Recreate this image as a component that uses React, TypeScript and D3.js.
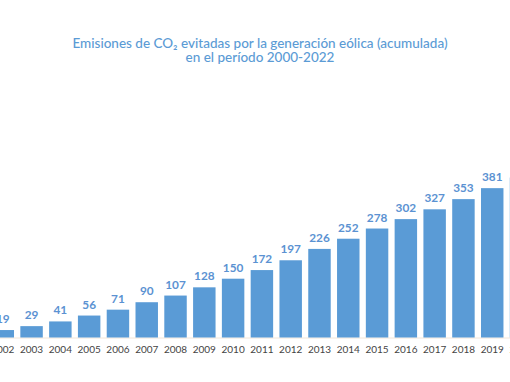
import React from "react";
import * as d3 from "d3";

const years = ["2000","2001","2002","2003","2004","2005","2006","2007","2008","2009","2010","2011","2012","2013","2014","2015","2016","2017","2018","2019","2020","2021","2022"];
const values = [4, 10, 19, 29, 41, 56, 71, 90, 107, 128, 150, 172, 197, 226, 252, 278, 302, 327, 353, 381, 408, 436, 465];
const titleLines = ["Emisiones de CO₂ evitadas por la generación eólica (acumulada)", "en el período 2000-2022"];

const W = 510;
const H = 382;

export default function App() {
  const x = d3.scaleBand<string>().domain(years).range([-69.2, 593]).paddingInner(0.22).paddingOuter(0.11);
  const y = d3.scaleLinear().domain([0, 400]).range([337.5, 180.7]);
  const bw = x.bandwidth();
  return (
    <div style={{ position: "absolute", left: 0, top: 0 }}>
      <svg width={W} height={H} style={{ display: "block", background: "#fff" }}>
        <g fontFamily="Lato, sans-serif" textAnchor="middle">
          <text x={260} y={47.5} fontSize={13.5} fill="#5b9bd5" fontWeight={500}>{titleLines[0]}</text>
          <text x={260} y={62} fontSize={13.5} fill="#5b9bd5" fontWeight={500}>{titleLines[1]}</text>
        </g>
        <line x1={0} x2={W} y1={y(0) + 0.5} y2={y(0) + 0.5} stroke="#f3e6d8" strokeWidth={1} />
        {years.map((yr, i) => {
          const bx = x(yr)!;
          const v = values[i];
          return (
            <g key={yr}>
              <rect x={bx} y={y(v)} width={bw} height={y(0) - y(v)} fill="#5a9bd6" />
              <text x={bx + bw / 2} y={y(v) - 7} textAnchor="middle" fontFamily="Lato, sans-serif" fontWeight={700} fontSize={11.8} fill="#5b92d2">{v}</text>
              <text x={bx + bw / 2} y={353} textAnchor="middle" fontFamily="Lato, sans-serif" fontSize={10} fill="#444">{yr}</text>
            </g>
          );
        })}
      </svg>
    </div>
  );
}
